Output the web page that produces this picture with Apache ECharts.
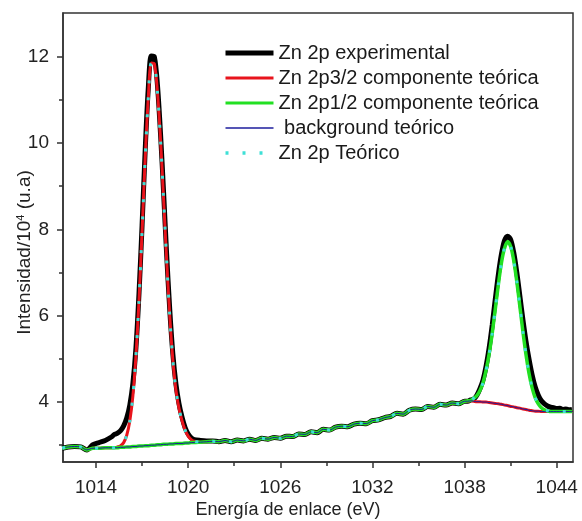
<!DOCTYPE html>
<html>
<head>
<meta charset="utf-8">
<script src="https://cdn.jsdelivr.net/npm/echarts@6/dist/echarts.min.js"></script>
<style>html,body{margin:0;padding:0;background:#fff}#c{width:582px;height:521px}</style>
</head>
<body>
<div id="c"></div>
<script>
// Binding energy (eV) sample positions
const energy = [1011.8,1012.2,1012.6,1013.0,1013.4,1013.8,1014.2,1014.6,1015.0,
1015.2,1015.4,1015.6,1015.8,1016.0,1016.2,1016.4,1016.6,1016.8,1017.0,1017.2,1017.4,1017.6,1017.8,1018.0,1018.2,1018.4,1018.6,1018.8,1019.0,1019.2,1019.4,1019.6,1019.8,1020.0,1020.2,1020.4,
1020.8,1021.2,1021.6,1022.0,1022.4,1022.8,1023.2,1023.6,1024.0,1024.4,1024.8,1025.2,1025.6,1026.0,1026.4,1026.8,1027.2,1027.6,1028.0,1028.4,1028.8,1029.2,1029.6,1030.0,1030.4,1030.8,1031.2,1031.6,1032.0,1032.4,1032.8,1033.2,1033.6,1034.0,1034.4,1034.8,1035.2,1035.6,1036.0,1036.4,1036.8,1037.2,1037.6,1038.0,
1038.2,1038.4,1038.6,1038.8,1039.0,1039.2,1039.4,1039.6,1039.8,1040.0,1040.2,1040.4,1040.6,1040.8,1041.0,1041.2,1041.4,1041.6,1041.8,1042.0,1042.2,1042.4,1042.6,1042.8,1043.0,1043.2,1043.4,1043.6,1043.8,1044.0,1044.2,1044.4,1044.6,1044.8,1045.0];

// Zn 2p experimental (x10^4)
const experimental = [2.92,2.95,2.96,2.95,2.88,3.00,3.05,3.10,3.18,
3.24,3.27,3.33,3.44,3.62,3.92,4.42,5.25,6.52,8.10,9.82,11.25,12.02,12.00,11.35,10.22,8.86,7.42,6.14,5.12,4.42,3.96,3.64,3.40,3.25,3.16,3.12,
3.10,3.09,3.09,3.07,3.10,3.07,3.11,3.09,3.13,3.10,3.15,3.13,3.17,3.15,3.20,3.19,3.25,3.24,3.30,3.28,3.36,3.34,3.41,3.43,3.42,3.48,3.50,3.49,3.56,3.58,3.63,3.66,3.73,3.71,3.80,3.83,3.82,3.89,3.87,3.94,3.92,3.97,3.95,4.01,
4.01,4.04,4.06,4.15,4.30,4.50,4.82,5.25,5.78,6.38,6.95,7.42,7.74,7.84,7.76,7.46,7.00,6.45,5.90,5.40,4.98,4.62,4.34,4.15,4.02,3.95,3.90,3.87,3.86,3.84,3.85,3.82,3.83,3.81,3.82];

// background teórico
const background = [2.92,2.95,2.96,2.95,2.88,2.92,2.92,2.93,2.93,
2.93,2.93,2.94,2.94,2.95,2.95,2.96,2.96,2.97,2.97,2.98,2.98,2.99,2.99,3.00,3.00,3.01,3.01,3.02,3.02,3.03,3.03,3.03,3.04,3.04,3.05,3.05,
3.06,3.07,3.08,3.07,3.10,3.07,3.11,3.09,3.13,3.10,3.15,3.13,3.17,3.15,3.20,3.19,3.25,3.24,3.30,3.28,3.36,3.34,3.41,3.43,3.42,3.48,3.50,3.49,3.56,3.58,3.63,3.66,3.73,3.71,3.80,3.83,3.82,3.89,3.87,3.94,3.92,3.97,3.95,4.01,
4.01,4.02,4.01,4.00,4.00,3.99,3.99,3.98,3.97,3.96,3.95,3.94,3.92,3.91,3.89,3.88,3.86,3.85,3.83,3.82,3.80,3.79,3.78,3.78,3.77,3.77,3.77,3.77,3.77,3.77,3.77,3.77,3.77,3.77,3.77];

// Zn 2p3/2 component (incl. background) where it departs from background
const p32Energy = [1015.2,1015.4,1015.6,1015.8,1016.0,1016.2,1016.4,1016.6,1016.8,1017.0,1017.2,1017.4,1017.6,1017.8,1018.0,1018.2,1018.4,1018.6,1018.8,1019.0,1019.2,1019.4,1019.6,1019.8,1020.0,1020.2,1020.4];
const p32Values = [2.93,2.95,2.98,3.05,3.22,3.55,4.13,5.06,6.36,7.96,9.63,11.03,11.86,11.84,11.19,10.08,8.71,7.28,6.00,4.98,4.28,3.85,3.56,3.34,3.20,3.12,3.08];

// Zn 2p1/2 component (incl. background) where it departs from background
const p12Energy = [1038.2,1038.4,1038.6,1038.8,1039.0,1039.2,1039.4,1039.6,1039.8,1040.0,1040.2,1040.4,1040.6,1040.8,1041.0,1041.2,1041.4,1041.6,1041.8,1042.0,1042.2,1042.4,1042.6,1042.8,1043.0,1043.2,1043.4,1043.6,1043.8,1044.0,1044.2,1044.4,1044.6,1044.8,1045.0];
const p12Values = [4.02,4.03,4.08,4.14,4.26,4.44,4.73,5.11,5.59,6.15,6.72,7.22,7.56,7.71,7.60,7.28,6.79,6.21,5.62,5.09,4.65,4.32,4.09,3.95,3.86,3.81,3.79,3.77,3.77,3.77,3.77,3.77,3.77,3.77,3.77];

// Tick labels
const xMajorTicks = [1014,1020,1026,1032,1038,1044];
const xMinorTicks = [1017,1023,1029,1035,1041];
const yMajorTicks = [4,6,8,10,12];
const yMinorTicks = [3,5,7,9,11];

const names = ['Zn 2p experimental','Zn 2p3/2 componente teórica','Zn 2p1/2 componente teórica',' background teórico','Zn 2p Teórico'];

const m32 = new Map(p32Energy.map((e,i)=>[e,p32Values[i]]));
const m12 = new Map(p12Energy.map((e,i)=>[e,p12Values[i]]));
const expData = energy.map((e,i)=>[e,experimental[i]]);
const bgData = energy.map((e,i)=>[e,background[i]]);
const p32Data = energy.map((e,i)=>[e, m32.has(e)?m32.get(e):background[i]]);
const p12Data = energy.map((e,i)=>[e, m12.has(e)?m12.get(e):background[i]]);
const totData = energy.map((e,i)=>[e, m32.has(e)?m32.get(e):(m12.has(e)?m12.get(e):background[i])]);

const FONT = "'Liberation Sans', Arial, sans-serif";
const AX = '#333';
const chart = echarts.init(document.getElementById('c'), null, {renderer:'canvas'});
const xBase = {type:'value', min:1011.85, max:1045.06, splitLine:{show:false}, position:'bottom'};
const yBase = {type:'value', min:2.6, max:13.02, splitLine:{show:false}, position:'left'};
function line(name, data, color, width, type){
  return {name, type:'line', data, showSymbol:false, symbol:'none', smooth:0.3,
    lineStyle:{color, width, type: type||'solid'}, itemStyle:{color}, emphasis:{disabled:true}};
}
chart.setOption({
  animation:false,
  grid:{left:63, right:9, top:13, bottom:59, show:true, borderColor:AX, borderWidth:1.5, outerBoundsMode:'none', containLabel:false},
  legend:{orient:'vertical', left:218, top:38, itemWidth:48, itemHeight:14, itemGap:5,
    itemStyle:{opacity:0},
    textStyle:{fontFamily:FONT, fontSize:20, color:'#1a1a1a'}, selectedMode:false,
    data:[
      {name:names[0], lineStyle:{width:5}},
      {name:names[1], lineStyle:{width:3}},
      {name:names[2], lineStyle:{width:3}},
      {name:names[3], lineStyle:{width:1.5, color:'#1c1c9c'}},
      {name:names[4], lineStyle:{width:3.5}}
    ]},
  xAxis:[
    Object.assign({}, xBase, {
      name:'Energía de enlace (eV)', nameLocation:'middle', nameGap:39, nameMoveOverlap:false,
      nameTextStyle:{fontFamily:FONT, fontSize:18, color:'#222', padding:[0,60,0,0]},
      axisLine:{show:true, lineStyle:{color:AX, width:1.5}},
      axisTick:{show:true, inside:false, length:6, customValues:xMajorTicks, lineStyle:{color:AX, width:1.5}},
      axisLabel:{customValues:xMajorTicks, margin:16, fontFamily:FONT, fontSize:19, color:'#222', formatter:v=>String(v)}
    }),
    Object.assign({}, xBase, {
      axisLine:{show:false},
      axisTick:{show:true, inside:false, length:4, customValues:xMinorTicks, lineStyle:{color:AX, width:1.5}},
      axisLabel:{show:true, customValues:xMinorTicks, formatter:()=>''}
    })
  ],
  yAxis:[
    Object.assign({}, yBase, {
      name:'Intensidad/10{sup|4} (u.a)', nameLocation:'middle', nameGap:29, nameRotate:90, nameMoveOverlap:false,
      nameTextStyle:{fontFamily:FONT, fontSize:19, color:'#222', padding:[0,30,0,0],
        rich:{sup:{fontFamily:FONT, fontSize:11, color:'#222', verticalAlign:'top', padding:[0,0,8,0]}}},
      axisLine:{show:true, lineStyle:{color:AX, width:1.5}},
      axisTick:{show:true, inside:false, length:6, customValues:yMajorTicks, lineStyle:{color:AX, width:1.5}},
      axisLabel:{customValues:yMajorTicks, margin:14, fontFamily:FONT, fontSize:19, color:'#222', formatter:v=>String(v)}
    }),
    Object.assign({}, yBase, {
      axisLine:{show:false},
      axisTick:{show:true, inside:false, length:4, customValues:yMinorTicks, lineStyle:{color:AX, width:1.5}},
      axisLabel:{show:true, customValues:yMinorTicks, formatter:()=>''}
    })
  ],
  series:[
    line(names[0], expData, '#000000', 5),
    line(names[1], p32Data, '#e8141c', 3),
    line(names[2], p12Data, '#22e022', 3.5),
    line(names[3], bgData, '#1c1c9c', 1),
    line(names[4], totData, '#3ee0d6', 3, [3,14])
  ]
});
</script>
</body>
</html>
